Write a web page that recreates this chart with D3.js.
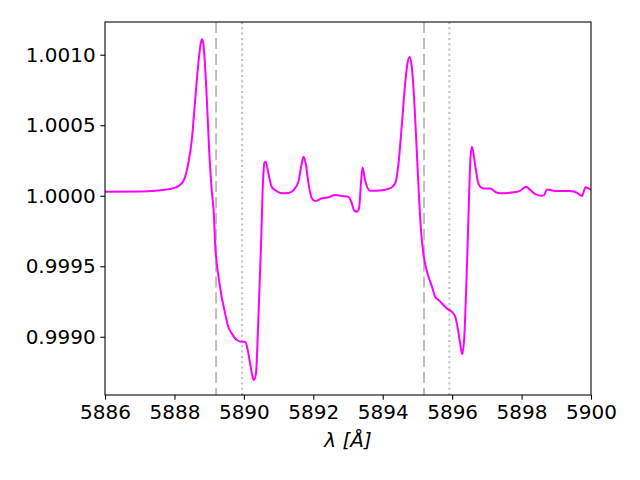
<!DOCTYPE html>
<html>
<head>
<meta charset="utf-8">
<script src="https://cdn.jsdelivr.net/npm/d3@7"></script>
<style>
  html, body { margin: 0; padding: 0; background: #fff; }
  svg { display: block; }
  text { font-family: "DejaVu Sans", sans-serif; }
</style>
</head>
<body>
<svg id="chart" width="640" height="480"></svg>
<script>
// ---- data ----
const wavelength = [
  5886.00, 5887.01, 5887.87, 5888.16, 5888.31, 5888.40, 5888.50, 5888.59, 5888.69, 5888.76,
  5888.80, 5888.83, 5888.93, 5889.00, 5889.07, 5889.14, 5889.17, 5889.20, 5889.27, 5889.36,
  5889.46, 5889.55, 5889.65, 5889.80, 5889.94, 5890.04, 5890.11, 5890.18, 5890.25, 5890.29,
  5890.35, 5890.42, 5890.49, 5890.55, 5890.59, 5890.63, 5890.71, 5890.80, 5890.90, 5891.09,
  5891.28, 5891.43, 5891.57, 5891.67, 5891.72, 5891.79, 5891.86, 5891.96, 5892.05, 5892.25,
  5892.44, 5892.63, 5892.82, 5893.01, 5893.11, 5893.18, 5893.26, 5893.32, 5893.38, 5893.42,
  5893.49, 5893.64, 5893.93, 5894.21, 5894.36, 5894.45, 5894.55, 5894.65, 5894.72, 5894.78,
  5894.84, 5894.89, 5894.98, 5895.05, 5895.11, 5895.17, 5895.24, 5895.32, 5895.42, 5895.51,
  5895.61, 5895.75, 5895.85, 5895.99, 5896.09, 5896.17, 5896.23, 5896.29, 5896.35, 5896.41,
  5896.47, 5896.53, 5896.57, 5896.67, 5896.76, 5896.90, 5897.10, 5897.24, 5897.39, 5897.77,
  5897.96, 5898.13, 5898.25, 5898.39, 5898.59, 5898.65, 5898.73, 5898.83, 5899.02, 5899.40,
  5899.60, 5899.74, 5899.84, 5899.93, 5900.01
];
const flux = [
  1.000028, 1.000030, 1.000048, 1.000076, 1.000135, 1.000232, 1.000395, 1.000657, 1.000941, 1.001083,
  1.001109, 1.001083, 1.000702, 1.000324, 1.000050, 0.999851, 0.999665, 0.999567, 0.999426, 0.999284,
  0.999166, 0.999071, 0.999024, 0.998977, 0.998965, 0.998965, 0.998907, 0.998811, 0.998716, 0.998693,
  0.998743, 0.999142, 0.999615, 1.000090, 1.000232, 1.000241, 1.000154, 1.000064, 1.000040, 1.000017,
  1.000019, 1.000040, 1.000099, 1.000232, 1.000277, 1.000218, 1.000090, 0.999982, 0.999962, 0.999982,
  0.999989, 1.000005, 0.999998, 0.999993, 0.999946, 0.999894, 0.999887, 0.999913, 1.000111, 1.000200,
  1.000111, 1.000035, 1.000037, 1.000052, 1.000088, 1.000218, 1.000501, 1.000806, 1.000948, 1.000984,
  1.000906, 1.000750, 1.000324, 0.999970, 0.999733, 0.999592, 0.999496, 0.999426, 0.999355, 0.999284,
  0.999260, 0.999225, 0.999201, 0.999177, 0.999142, 0.999048, 0.998953, 0.998877, 0.999000, 0.999379,
  0.999851, 1.000277, 1.000348, 1.000206, 1.000083, 1.000052, 1.000052, 1.000028, 1.000017, 1.000024,
  1.000035, 1.000064, 1.000040, 1.000012, 1.000000, 1.000005, 1.000045, 1.000040, 1.000033, 1.000033,
  1.000021, 0.999998, 1.000060, 1.000052, 1.000040
];
const dashedLines = [5889.20, 5895.19];
const dottedLines = [5889.95, 5895.92];
const xTicks = [5886, 5888, 5890, 5892, 5894, 5896, 5898, 5900];
const yTicks = [0.9990, 0.9995, 1.0000, 1.0005, 1.0010];
const xDomain = [5886, 5900];
const yDomain = [0.998587, 1.001232];

// ---- layout ----
const margin = { left: 105, right: 49, top: 22, bottom: 85 };
const W = 640, H = 480;
const iw = W - margin.left - margin.right;
const ih = H - margin.top - margin.bottom;

const svg = d3.select("#chart");
const g = svg.append("g").attr("transform", `translate(${margin.left},${margin.top})`);

const x = d3.scaleLinear().domain(xDomain).range([0, iw]);
const y = d3.scaleLinear().domain(yDomain).range([ih, 0]);

svg.append("defs").append("clipPath").attr("id", "clip")
  .append("rect").attr("width", iw).attr("height", ih);

const plot = g.append("g").attr("clip-path", "url(#clip)");

// reference lines
plot.selectAll("line.dash").data(dashedLines).enter().append("line")
  .attr("x1", d => x(d)).attr("x2", d => x(d))
  .attr("y1", 0).attr("y2", ih)
  .attr("stroke", "#bfbfbf").attr("stroke-width", 2)
  .attr("stroke-dasharray", "11.1,4.8");
plot.selectAll("line.dot").data(dottedLines).enter().append("line")
  .attr("x1", d => x(d)).attr("x2", d => x(d))
  .attr("y1", 0).attr("y2", ih)
  .attr("stroke", "#bfbfbf").attr("stroke-width", 2)
  .attr("stroke-dasharray", "2,3.3");

// spectrum
const pts = wavelength.map((w, i) => [w, flux[i]]);
const line = d3.line().x(d => x(d[0])).y(d => y(d[1])).curve(d3.curveMonotoneX);
plot.append("path").datum(pts)
  .attr("d", line)
  .attr("fill", "none")
  .attr("stroke", "#ff00ff")
  .attr("stroke-width", 2)
  .attr("stroke-linejoin", "round");

// axes
const xAxis = d3.axisBottom(x).tickValues(xTicks).tickFormat(d3.format("d"))
  .tickSizeInner(4.7).tickSizeOuter(0).tickPadding(4.7);
const yAxis = d3.axisLeft(y).tickValues(yTicks).tickFormat(d3.format(".4f"))
  .tickSizeInner(4.7).tickSizeOuter(0).tickPadding(4.7);

const gx = g.append("g").attr("transform", `translate(0,${ih})`).call(xAxis);
const gy = g.append("g").call(yAxis);
[gx, gy].forEach(a => {
  a.select(".domain").remove();
  a.selectAll(".tick line").attr("stroke", "#000").attr("stroke-width", 1.07);
  a.selectAll(".tick text").attr("fill", "#000")
    .style("font-family", "'DejaVu Sans', sans-serif").style("font-size", "20px");
});

// frame
g.append("rect").attr("x", 0).attr("y", 0).attr("width", iw).attr("height", ih)
  .attr("fill", "none").attr("stroke", "#000").attr("stroke-width", 1.07);

// x label
g.append("text")
  .attr("x", iw / 2).attr("y", ih + 52)
  .attr("text-anchor", "middle")
  .style("font-size", "20px").style("font-style", "italic")
  .attr("fill", "#000")
  .text("λ [Å]");
</script>
</body>
</html>
